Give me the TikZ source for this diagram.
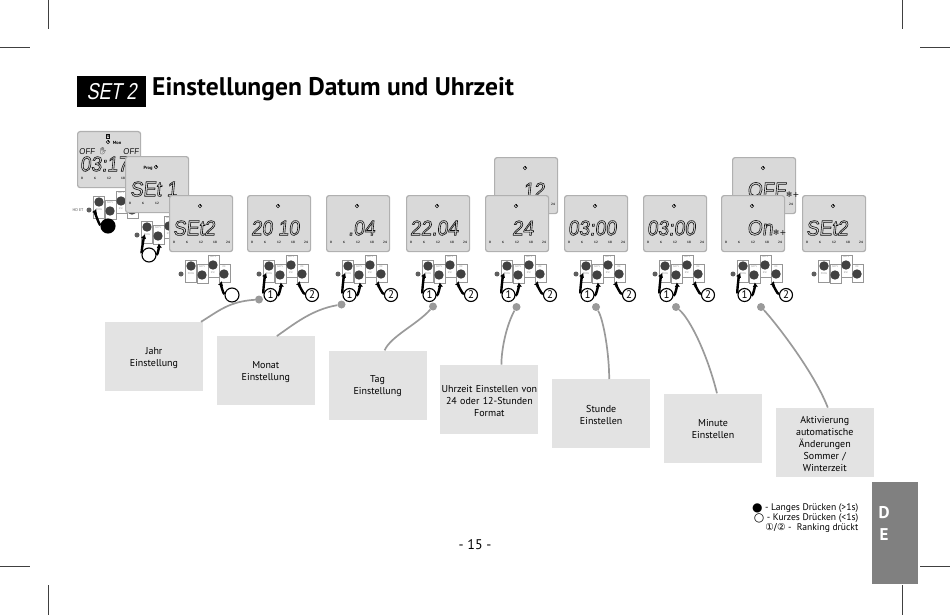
\documentclass[tikz,border=0pt]{standalone}
\usepackage{fontspec}
\usepackage{xcolor}
\usepackage{tikz}
\usetikzlibrary{arrows.meta,positioning,calc}
\setmainfont{PT Sans}
\newfontfamily\lcdfont[FakeStretch=0.92,FakeSlant=0.1]{Liberation Sans}
\newfontfamily\headfont[FakeStretch=0.78,FakeSlant=0.2]{Liberation Sans}
\newfontfamily\symfont{DejaVu Sans}
\newfontfamily\handfont{Noto Emoji}
\definecolor{lcdFill}{HTML}{D9D9D9}
\definecolor{lcdLine}{HTML}{B0B0B0}
\definecolor{lcdText}{HTML}{111111}
\definecolor{padLine}{HTML}{969696}
\definecolor{padKnob}{HTML}{414141}
\definecolor{noteFill}{HTML}{E3E3E3}
\definecolor{leadGray}{HTML}{9A9A9A}
\definecolor{tabGray}{HTML}{808080}
\newcommand{\fsz}[1]{\fontsize{#1}{#1}\selectfont}
\newcommand{\hollow}[1]{\special{pdf:code 1 Tr 0.6 w}#1\special{pdf:code 0 Tr 1 w}}
\newcommand{\climateMark}{\special{pdf:code 0 Tr 1 w}{\symfont\fsz{8}\raisebox{-0.5pt}{❄+}}\special{pdf:code 1 Tr 0.6 w}}
\tikzset{
  lcdBox/.style={
    draw=lcdLine,
    fill=lcdFill,
    rounded corners=2.5pt,
    line width=1.2pt,
    anchor=north west,
    minimum width=63pt,
    minimum height=56pt,
    inner sep=0pt
  },
  lcdRead/.style={
    anchor=west,
    inner sep=0pt,
    text=lcdText,
    font=\lcdfont\fsz{21}
  },
  lcdSmall/.style={
    inner sep=0pt,
    text=lcdText,
    font=\lcdfont\fsz{8.5}
  },
  lcdTick/.style={
    inner sep=0pt,
    text=lcdText,
    font=\bfseries\fsz{3.2}
  },
  clockIcon/.style={
    circle,
    draw=lcdText,
    line width=0.6pt,
    minimum size=3.6pt,
    inner sep=0pt
  },
  padCell/.style={
    draw=padLine,
    fill=white,
    line width=0.8pt,
    anchor=north west,
    inner sep=0pt,
    minimum width=11.3pt
  },
  padKnob/.style={
    circle,
    fill=padKnob,
    minimum size=9.4pt,
    inner sep=0pt
  },
  padTag/.style={
    inner sep=0pt,
    text=padLine,
    font=\fsz{2.6}
  },
  pressArrow/.style={
    -{Latex[length=4.5pt,width=5.5pt]},
    line width=2.4pt,
    draw=black,
    shorten >=2.5pt
  },
  rankMark/.style={
    circle,
    draw=black,
    fill=white,
    line width=1.1pt,
    minimum size=13pt,
    inner sep=0pt,
    font=\fsz{11}
  },
  shortMark/.style={
    rankMark,
    minimum size=14pt
  },
  longMark/.style={
    shortMark,
    fill=black
  },
  noteBox/.style={
    fill=noteFill,
    minimum width=98pt,
    minimum height=69pt,
    text width=97pt,
    inner sep=0.5pt,
    align=center,
    font=\fontsize{10}{12}\selectfont,
    execute at end node={\vspace{-2.5pt}}
  },
  leadDot/.style={
    circle,
    fill=leadGray,
    minimum size=8pt,
    inner sep=0pt
  },
  leadLine/.style={
    draw=leadGray,
    line width=1.7pt
  },
  cropMark/.style={
    draw=black!75,
    line width=0.5pt
  }
}
% display: name, x, y, reading x, reading
\newcommand{\lcdPanel}[5]{
  \begin{scope}[shift={(#2,#3)}]
    \node[lcdBox] (#1) at (0,0) {};
    \node[lcdRead] (#1-read) at (#4,33) {\hollow{#5}};
    \node[clockIcon] (#1-clock) at (31,11) {};
    \draw[lcdText, line width=0.5pt] (#1-clock.center) -- (#1-clock.north);
    \foreach \t/\p in {0/5,6/18,12/32,18/46,24/59} {
      \node[lcdTick] at (\p,47) {\t};
    }
  \end{scope}
}
% keypad: name, x, y
\newcommand{\keyPad}[3]{
  \begin{scope}[shift={(#2,#3)}]
    \node[padCell, minimum height=22pt] (#1-ca) at (16,65) {};
    \node[padCell, minimum height=19pt] (#1-cb) at (27.5,69) {};
    \node[padCell, minimum height=22pt] (#1-cc) at (38.5,60) {};
    \node[padCell, minimum height=18pt] (#1-cd) at (49.5,69) {};
    \node[padKnob, minimum size=5pt, fill=padKnob!85] (#1-led) at (12,79) {};
    \node[padKnob] (#1-a) at (22,71) {};
    \node[padKnob] (#1-b) at (33,80) {};
    \node[padKnob] (#1-c) at (44,70) {};
    \node[padKnob] (#1-d) at (55,79) {};
    \node[padTag] at (22,79) {PROG};
    \node[padTag] at (33,72) {DAYS};
    \node[padTag] at (44,62) {DAYS};
    \node[padTag] at (44,78) {ESC};
    \node[padTag] at (55,72) {OK};
  \end{scope}
}
\begin{document}
\begin{tikzpicture}[x=1pt,y=-1pt]
  \useasboundingbox (0,0) rectangle (950,615);

  % crop marks
  \foreach \x in {48,902} {
    \draw[cropMark] (\x,0) -- (\x,29);
    \draw[cropMark] (\x,585) -- (\x,615);
  }
  \foreach \y in {47,566} {
    \draw[cropMark] (0,\y) -- (30,\y);
    \draw[cropMark] (920,\y) -- (950,\y);
  }

  % heading
  \node[fill=black, text=white, minimum width=69pt, minimum height=31pt, inner sep=0pt,
    font=\headfont\fsz{23}] (setTag) at (111.5,91.5) {SET 2};
  \node[anchor=base west, inner sep=0pt, font=\bfseries\fsz{25.5}] (heading) at (152,96)
    {Einstellungen Datum und Uhrzeit};

  % overlapping start of the sequence
  \lcdPanel{start}{77}{131}{3}{03:17}
  \node[lcdSmall] (startOffA) at (87,152) {OFF};
  \node[lcdSmall] (startOffB) at (131,152) {OFF};
  \node[font=\bfseries\fsz{4.5}, inner sep=0pt] (startDay) at (117,142.5) {Mon};
  \node[draw=lcdText, line width=0.4pt, font=\bfseries\fsz{3.5}, inner sep=0.6pt] (startIcon) at (108,136.5) {4};
  \node[font=\handfont\fsz{7}, text=lcdText, inner sep=0pt] (startHand) at (103,151.5) {✋};
  \keyPad{startPad}{77}{131}
  \node[padTag, font=\fsz{4}, text=black!70] (startHold) at (78,210) {HD ET};
  \node[longMark] (startLong) at (108,226) {};
  \draw[pressArrow] (startLong) .. controls +(-9,-1) and +(-4,10) .. (startPad-a);

  \lcdPanel{prog}{125}{156}{5}{SEt 1}
  \node[font=\bfseries\fsz{4.5}, inner sep=0pt] (progTag) at (148,168) {Prog};
  \keyPad{progPad}{125}{156}
  \node[shortMark] (progShort) at (149,255) {};
  \draw[pressArrow] (progShort) .. controls +(-8,-2) and +(-3,10) .. (progPad-a);
  \draw[pressArrow] (progShort) .. controls +(9,0) and +(1,9) .. (progPad-b);

  \lcdPanel{setA}{169}{195}{4}{SEt2}
  \keyPad{setAPad}{169}{195}
  \node[shortMark] (setAShort) at (232,295) {};
  \draw[pressArrow] (setAShort) .. controls +(-9,-1) and +(-3,10) .. (setAPad-d);

  % panels standing behind the row
  \lcdPanel{hourB}{494}{157}{29}{12}
  \lcdPanel{dstB}{732}{157}{15}{OFF\climateMark}

  % settings row
  \foreach \n/\x/\tx/\txt in {
    year/247/4/{20 10},
    month/326/22/{.04},
    day/406/4/{22.04},
    format/485/27/{24},
    hour/564/4/{03:00},
    minute/643/4/{03:00},
    dst/721/26/{On\climateMark}} {
    \lcdPanel{\n}{\x}{195}{\tx}{\txt}
    \keyPad{\n Pad}{\x}{195}
    \node[rankMark] (\n One) at ($(\n Pad-b)+(-9.5,20)$) {1};
    \node[rankMark] (\n Two) at ($(\n Pad-d)+(10,21)$) {2};
    \draw[pressArrow] (\n One) .. controls +(-8,-2) and +(-4,10) .. (\n Pad-a);
    \draw[pressArrow] (\n One) .. controls +(9,1) and +(1,9) .. (\n Pad-b);
    \draw[pressArrow] (\n Two) .. controls +(-9,-1) and +(-3,10) .. (\n Pad-d);
  }

  \lcdPanel{setB}{802}{195}{4}{SEt2}
  \keyPad{setBPad}{802}{195}

  % notes
  \node[noteBox] (noteYear) at (154,356.5) {Jahr\\Einstellung};
  \node[noteBox, right=13.4pt of noteYear, yshift=-14.3pt] (noteMonth) {Monat\\Einstellung};
  \node[noteBox, right=13.4pt of noteMonth, yshift=-14.3pt] (noteDay) {Tag\\Einstellung};
  \node[noteBox, right=13.4pt of noteDay, yshift=-14.3pt] (noteFormat)
    {Uhrzeit Einstellen von\\24 oder 12-Stunden\\Format};
  \node[noteBox, right=13.4pt of noteFormat, yshift=-14.3pt] (noteHour) {Stunde\\Einstellen};
  \node[noteBox, right=13.4pt of noteHour, yshift=-14.3pt] (noteMinute) {Minute\\Einstellen};
  \node[noteBox, right=13.4pt of noteMinute, yshift=-14.3pt] (noteDst)
    {Aktivierung\\automatische\\Änderungen\\Sommer /\\Winterzeit};

  % leader lines
  \node[leadDot] (dotYear) at (259,299.5) {};
  \node[leadDot] (dotMonth) at (341.5,304.5) {};
  \node[leadDot] (dotDay) at (433,306.5) {};
  \node[leadDot] (dotFormat) at (516.5,307) {};
  \node[leadDot] (dotHour) at (596,307) {};
  \node[leadDot] (dotMinute) at (676,307) {};
  \node[leadDot] (dotDst) at (761,307) {};
  \draw[leadLine] (dotYear) .. controls +(-30,2) and +(18,-11) .. ($(noteYear.north)+(47,0)$);
  \draw[leadLine] (dotMonth) .. controls +(-30,5) and +(16,-11) .. ($(noteMonth.north)+(11,0)$);
  \draw[leadLine] (dotDay) .. controls +(-16,18) and +(6,-14) .. ($(noteDay.north)+(7,0)$);
  \draw[leadLine] (dotFormat) .. controls +(-10,18) and +(0,-16) .. ($(noteFormat.north)+(12,0)$);
  \draw[leadLine] (dotHour) .. controls +(8,14) and +(0,-24) .. ($(noteHour.north)+(8,0)$);
  \draw[leadLine] (dotMinute) .. controls +(14,12) and +(-10,-40) .. ($(noteMinute.north)+(4,0)$);
  \draw[leadLine] (dotDst) .. controls +(14,15) and +(-14,-36) .. ($(noteDst.north)+(3,0)$);

  % legend, page number, language tab
  \node[anchor=east, inner sep=0pt, align=right, font=\fontsize{9.6}{10}\selectfont] (legend) at (858.5,518.5)
    {{\symfont\fsz{12}\raisebox{-0.8pt}{●}} - Langes Drücken (>1s)\\
     {\symfont\fsz{12}\raisebox{-0.8pt}{○}} - Kurzes Drücken (<1s)\\
     {\symfont\fsz{9.5}①/②} -\ \ Ranking drückt};
  \node[font=\fsz{14}, inner sep=0pt] (pageNo) at (475,545) {- 15 -};
  \node[fill=tabGray, anchor=north west, minimum width=46pt, minimum height=102pt, inner sep=0pt]
    (langTab) at (872,482) {};
  \node[text=white, font=\bfseries\fsz{17}, inner sep=0pt] (tabD) at (884,513) {D};
  \node[text=white, font=\bfseries\fsz{17}, inner sep=0pt, below=9pt of tabD] (tabE) {E};
\end{tikzpicture}
\end{document}
